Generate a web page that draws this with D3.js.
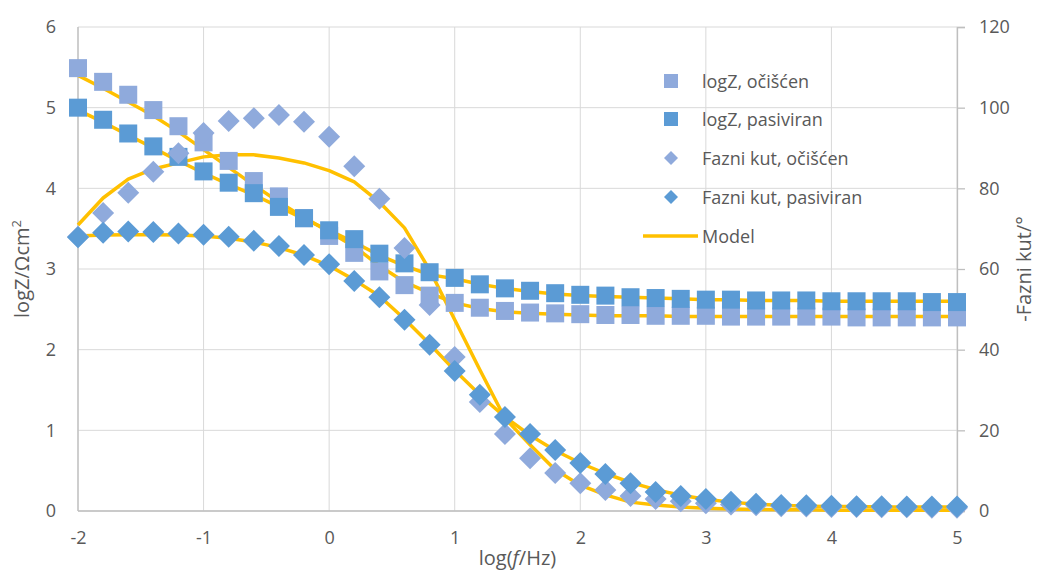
<!DOCTYPE html>
<html>
<head>
<meta charset="utf-8">
<script src="https://cdn.jsdelivr.net/npm/d3@7"></script>
<style>
  body { margin: 0; background: #fff; }
  svg { display: block; font-family: "Open Sans", "Noto Sans", sans-serif; }
</style>
</head>
<body>
<div id="chart"></div>
<script>
// log(f/Hz) values
const logf = [-2, -1.8, -1.6, -1.4, -1.2, -1, -0.8, -0.6, -0.4, -0.2,
  0, 0.2, 0.4, 0.6, 0.8, 1, 1.2, 1.4, 1.6, 1.8,
  2, 2.2, 2.4, 2.6, 2.8, 3, 3.2, 3.4, 3.6, 3.8,
  4, 4.2, 4.4, 4.6, 4.8, 5];

const logZOcis = [5.49, 5.32, 5.16, 4.97, 4.77, 4.57, 4.34, 4.09, 3.90, 3.63,
  3.41, 3.20, 2.97, 2.80, 2.67, 2.58, 2.52, 2.48, 2.46, 2.45,
  2.44, 2.43, 2.43, 2.42, 2.42, 2.42, 2.41, 2.41, 2.41, 2.41,
  2.41, 2.40, 2.40, 2.40, 2.40, 2.40];
const logZPas = [5.00, 4.85, 4.68, 4.52, 4.39, 4.21, 4.07, 3.94, 3.77, 3.63,
  3.48, 3.37, 3.19, 3.07, 2.96, 2.89, 2.81, 2.76, 2.73, 2.70,
  2.68, 2.67, 2.65, 2.64, 2.63, 2.62, 2.62, 2.61, 2.61, 2.61,
  2.60, 2.60, 2.60, 2.60, 2.59, 2.59];
const phaseOcis = [68.0, 73.9, 78.9, 84.1, 88.7, 93.7, 96.7, 97.4, 98.2, 96.5,
  92.8, 85.5, 77.4, 65.2, 51.1, 38.2, 27.0, 19.1, 13.1, 9.4,
  6.9, 5.2, 3.7, 3.0, 2.4, 1.9, 1.6, 1.4, 1.2, 1.1,
  1.0, 1.0, 0.9, 0.9, 0.8, 0.8];
const phasePas = [67.9, 69.0, 69.3, 69.2, 68.8, 68.5, 68.0, 67.0, 65.7, 63.5,
  61.2, 57.0, 53.0, 47.4, 41.2, 34.7, 28.8, 23.3, 19.1, 15.1,
  11.9, 9.2, 6.9, 4.7, 3.7, 3.0, 2.3, 1.8, 1.5, 1.4,
  1.3, 1.2, 1.2, 1.1, 1.1, 1.1];

// model (fit) curves
const modelLogZOcis = [5.40, 5.24, 5.07, 4.90, 4.70, 4.48, 4.26, 4.04, 3.83, 3.64,
  3.46, 3.28, 3.04, 2.84, 2.70, 2.58, 2.51, 2.47, 2.45, 2.44,
  2.43, 2.42, 2.42, 2.42, 2.41, 2.41, 2.41, 2.41, 2.41, 2.41,
  2.41, 2.41, 2.41, 2.41, 2.41, 2.41];
const modelLogZPas = [4.97, 4.82, 4.66, 4.50, 4.34, 4.19, 4.05, 3.92, 3.77, 3.62,
  3.48, 3.33, 3.17, 3.04, 2.93, 2.88, 2.81, 2.76, 2.72, 2.69,
  2.67, 2.66, 2.65, 2.64, 2.63, 2.62, 2.62, 2.61, 2.61, 2.61,
  2.60, 2.60, 2.60, 2.60, 2.60, 2.60];
const modelPhaseOcis = [70.9, 77.6, 82.3, 84.8, 86.3, 87.8, 88.3, 88.3, 87.5, 86.3,
  84.4, 81.6, 76.6, 70.2, 59.8, 47.4, 35.0, 23.0, 16.4, 10.2,
  6.4, 4.0, 2.2, 1.5, 1.0, 0.7, 0.5, 0.4, 0.3, 0.3,
  0.2, 0.2, 0.2, 0.2, 0.2, 0.2];
const modelPhasePas = [68.2, 68.4, 68.5, 68.5, 68.4, 68.2, 67.6, 66.7, 65.3, 63.4,
  60.8, 57.3, 53.3, 47.6, 41.4, 34.9, 28.8, 23.3, 18.8, 15.0,
  11.9, 9.3, 7.1, 5.3, 3.9, 2.9, 2.2, 1.7, 1.4, 1.2,
  1.1, 1.1, 1.0, 1.0, 1.0, 1.0];

const xTicks = [-2, -1, 0, 1, 2, 3, 4, 5];
const yLeftTicks = [0, 1, 2, 3, 4, 5, 6];
const yRightTicks = [0, 20, 40, 60, 80, 100, 120];
const legendLabels = ["logZ, očišćen", "logZ, pasiviran", "Fazni kut, očišćen", "Fazni kut, pasiviran", "Model"];

const width = 1040, height = 573;
const light = "#8FAADC", dark = "#5B9BD5", gold = "#FFC000", textCol = "#595959";

const svg = d3.select("#chart").append("svg")
  .attr("width", width).attr("height", height);

const x = d3.scaleLinear().domain([-2, 5]).range([78, 957]);
const yL = d3.scaleLinear().domain([0, 6]).range([511, 27]);
const yR = d3.scaleLinear().domain([0, 120]).range([511, 27]);

// grid
svg.append("g").selectAll("line").data(yLeftTicks).enter().append("line")
  .attr("x1", x(-2)).attr("x2", x(5))
  .attr("y1", d => yL(d)).attr("y2", d => yL(d))
  .attr("stroke", "#d9d9d9").attr("stroke-width", 1);
svg.append("g").selectAll("line").data(xTicks).enter().append("line")
  .attr("x1", d => x(d)).attr("x2", d => x(d))
  .attr("y1", yL(0)).attr("y2", yL(6))
  .attr("stroke", "#d9d9d9").attr("stroke-width", 1);

// axis lines
const axisCol = "#bfbfbf";
svg.append("line").attr("x1", x(-2)).attr("x2", x(-2)).attr("y1", yL(0)).attr("y2", yL(6))
  .attr("stroke", axisCol).attr("stroke-width", 1.3);
svg.append("line").attr("x1", x(-2)).attr("x2", x(5)).attr("y1", yL(0)).attr("y2", yL(0))
  .attr("stroke", axisCol).attr("stroke-width", 1.3);

const rightAxis = svg.append("g").attr("transform", `translate(${x(5)},0)`)
  .call(d3.axisRight(yR).tickValues(yRightTicks).tickSize(8).tickPadding(14));
rightAxis.select(".domain").attr("stroke", axisCol).attr("stroke-width", 1.3);
rightAxis.selectAll(".tick line").attr("stroke", axisCol).attr("stroke-width", 1.3);
rightAxis.selectAll("text").attr("fill", textCol).attr("font-size", 18)
  .attr("font-family", "'Open Sans', sans-serif");

const leftAxis = svg.append("g").attr("transform", `translate(${x(-2)},0)`)
  .call(d3.axisLeft(yL).tickValues(yLeftTicks).tickSize(0).tickPadding(22).tickFormat(d3.format("d")));
leftAxis.select(".domain").remove();
leftAxis.selectAll("text").attr("fill", textCol).attr("font-size", 18)
  .attr("font-family", "'Open Sans', sans-serif");

const bottomAxis = svg.append("g").attr("transform", `translate(0,${yL(0)})`)
  .call(d3.axisBottom(x).tickValues(xTicks).tickSize(0).tickPadding(20).tickFormat(d3.format("d")));
bottomAxis.select(".domain").remove();
bottomAxis.selectAll("text").attr("fill", textCol).attr("font-size", 18)
  .attr("font-family", "'Open Sans', sans-serif")
  .text(d => d < 0 ? "-" + Math.abs(d) : d);

// axis titles
const yTitle = svg.append("text")
  .attr("transform", `translate(29,${(yL(0) + yL(6)) / 2}) rotate(-90)`)
  .attr("text-anchor", "middle").attr("fill", textCol).attr("font-size", 20);
yTitle.append("tspan").text("logZ/Ωcm");
yTitle.append("tspan").attr("font-size", 13).attr("dy", -8).text("2");

svg.append("text")
  .attr("transform", `translate(1031,${(yR(0) + yR(120)) / 2}) rotate(-90)`)
  .attr("text-anchor", "middle").attr("fill", textCol).attr("font-size", 20)
  .text("-Fazni kut/°");

const xTitle = svg.append("text")
  .attr("x", (x(-2) + x(5)) / 2).attr("y", 565)
  .attr("text-anchor", "middle").attr("fill", textCol).attr("font-size", 20);
xTitle.append("tspan").text("log(");
xTitle.append("tspan").attr("font-style", "italic").text("f");
xTitle.append("tspan").text("/Hz)");

// model lines (behind markers)
const models = [
  { vals: modelLogZOcis, y: yL },
  { vals: modelLogZPas, y: yL },
  { vals: modelPhaseOcis, y: yR },
  { vals: modelPhasePas, y: yR }
];
models.forEach(m => {
  const line = d3.line().x((d, i) => x(logf[i])).y(d => m.y(d));
  svg.append("path").datum(m.vals)
    .attr("d", line)
    .attr("fill", "none").attr("stroke", gold).attr("stroke-width", 3.5)
    .attr("stroke-linejoin", "round");
});

// markers
const sq = 18, dia = 11;
function squares(vals, color) {
  svg.append("g").selectAll("rect").data(vals).enter().append("rect")
    .attr("x", (d, i) => x(logf[i]) - sq / 2)
    .attr("y", d => yL(d) - sq / 2)
    .attr("width", sq).attr("height", sq)
    .attr("fill", color);
}
function diamonds(vals, color) {
  svg.append("g").selectAll("path").data(vals).enter().append("path")
    .attr("d", (d, i) => {
      const cx = x(logf[i]), cy = yR(d);
      return `M${cx},${cy - dia}L${cx + dia},${cy}L${cx},${cy + dia}L${cx - dia},${cy}Z`;
    })
    .attr("fill", color);
}
squares(logZOcis, light);
squares(logZPas, dark);
diamonds(phaseOcis, light);
diamonds(phasePas, dark);

// legend
const legend = svg.append("g");
const legY = [81, 119, 158, 197, 236];
legendLabels.forEach((lab, i) => {
  const cy = legY[i], cx = 671;
  if (i < 2) {
    legend.append("rect").attr("x", cx - 7).attr("y", cy - 7).attr("width", 14).attr("height", 14)
      .attr("fill", i === 0 ? light : dark);
  } else if (i < 4) {
    legend.append("path")
      .attr("d", `M${cx},${cy - 7}L${cx + 7},${cy}L${cx},${cy + 7}L${cx - 7},${cy}Z`)
      .attr("fill", i === 2 ? light : dark);
  } else {
    legend.append("line").attr("x1", 643).attr("x2", 698).attr("y1", cy).attr("y2", cy)
      .attr("stroke", gold).attr("stroke-width", 3.5);
  }
  legend.append("text").attr("x", 702).attr("y", cy + 6.5)
    .attr("fill", textCol).attr("font-size", 18).text(lab);
});
</script>
</body>
</html>
